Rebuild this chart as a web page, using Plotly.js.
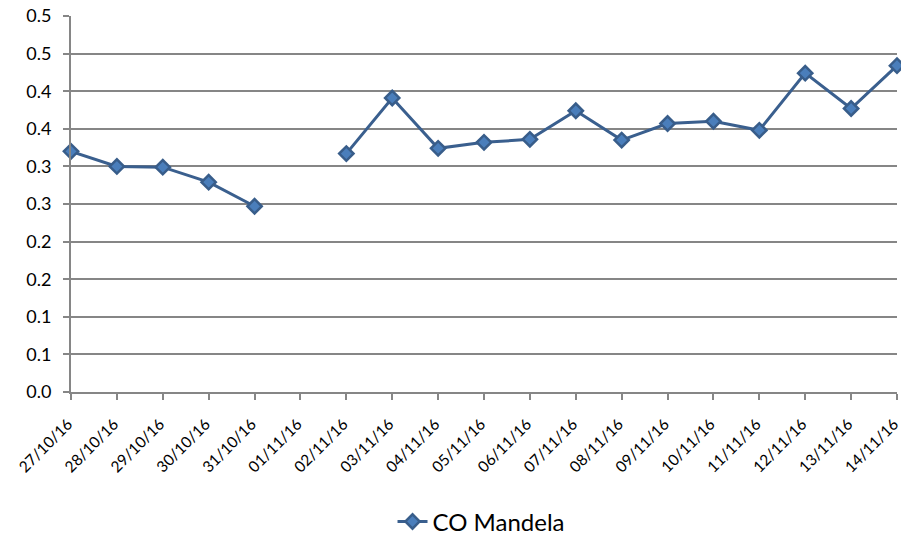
<!DOCTYPE html>
<html>
<head>
<meta charset="utf-8">
<script src="https://cdn.plot.ly/plotly-3.0.1.min.js"></script>
<style>
  html, body { margin: 0; padding: 0; background: #ffffff; }
  #chart { width: 901px; height: 538px; }
</style>
</head>
<body>
<div id="chart"></div>
<script>
// Daily CO readings, Mandela station
const dates = [
  "27/10/16", "28/10/16", "29/10/16", "30/10/16", "31/10/16", "01/11/16",
  "02/11/16", "03/11/16", "04/11/16", "05/11/16", "06/11/16", "07/11/16",
  "08/11/16", "09/11/16", "10/11/16", "11/11/16", "12/11/16", "13/11/16", "14/11/16"
];
const coMandela = [
  0.320, 0.300, 0.299, 0.279, 0.247, null,
  0.317, 0.391, 0.324, 0.332, 0.336, 0.374,
  0.335, 0.357, 0.360, 0.348, 0.424, 0.377, 0.434
];
const yTickValues = [0, 0.05, 0.1, 0.15, 0.2, 0.25, 0.3, 0.35, 0.4, 0.45, 0.5];
const yTickLabels = ["0.0", "0.1", "0.1", "0.2", "0.2", "0.3", "0.3", "0.4", "0.4", "0.5", "0.5"];

const axisGrey = "#868686";
const fontFace = "Lato, 'Open Sans', sans-serif";

const trace = {
  x: dates,
  y: coMandela,
  type: "scatter",
  mode: "lines+markers",
  name: "CO Mandela",
  connectgaps: false,
  cliponaxis: false,
  line: { color: "#3a5f8e", width: 3 },
  marker: {
    symbol: "diamond",
    size: 11,
    color: "#4a7ebb",
    line: { color: "#385d8a", width: 2.5 }
  }
};

const layout = {
  width: 901,
  height: 538,
  margin: { l: 71, r: 4, t: 16, b: 146 },
  paper_bgcolor: "#ffffff",
  plot_bgcolor: "#ffffff",
  font: { family: fontFace, size: 18, color: "#000000" },
  showlegend: true,
  legend: {
    orientation: "h",
    xref: "paper",
    x: 0.497,
    xanchor: "center",
    yref: "container",
    y: 0.03,
    yanchor: "middle",
    font: { family: fontFace, size: 24, color: "#000000" }
  },
  xaxis: {
    type: "category",
    range: [0, dates.length - 1],
    automargin: false,
    tickangle: -45,
    ticks: "outside",
    ticklen: 6,
    tickwidth: 2,
    tickcolor: axisGrey,
    ticklabelstandoff: 9,
    ticklabelshift: -3,
    showline: true,
    linecolor: axisGrey,
    linewidth: 2,
    showgrid: false,
    zeroline: false,
    tickfont: { family: fontFace, size: 15.5, color: "#000000" }
  },
  yaxis: {
    range: [0, 0.5],
    automargin: false,
    tickvals: yTickValues,
    ticktext: yTickLabels,
    ticks: "outside",
    ticklen: 6,
    tickwidth: 2,
    tickcolor: axisGrey,
    ticklabelstandoff: 8,
    showline: true,
    linecolor: axisGrey,
    linewidth: 2,
    showgrid: true,
    gridcolor: axisGrey,
    gridwidth: 2,
    zeroline: false,
    tickfont: { family: fontFace, size: 18, color: "#000000" }
  }
};

Plotly.newPlot("chart", [trace], layout, { displayModeBar: false, staticPlot: true });
</script>
</body>
</html>
